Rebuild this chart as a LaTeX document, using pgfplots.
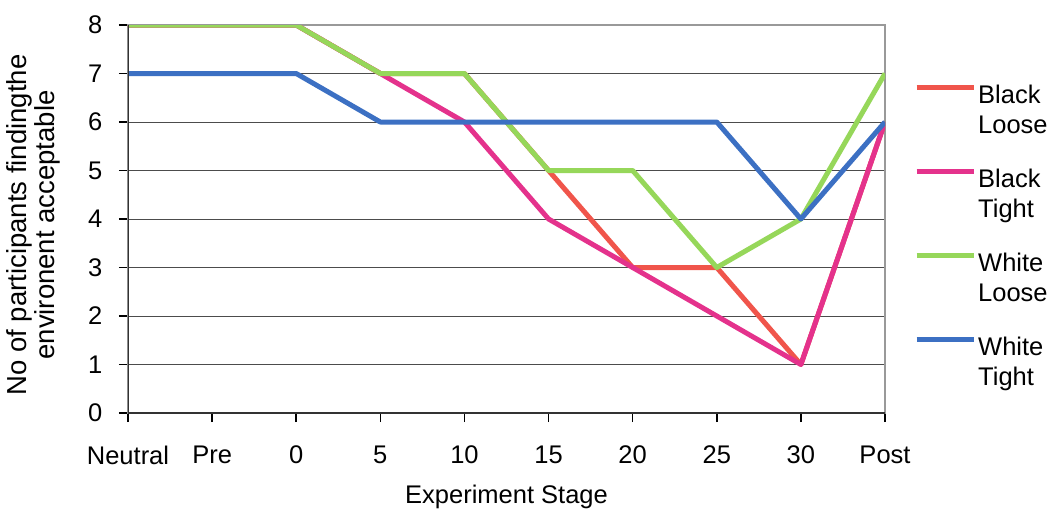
\documentclass[border=0pt]{standalone}
\usepackage{pgfplots}
\pgfplotsset{compat=1.18}
\usepackage{fontspec}
\setmainfont{Liberation Sans}
\definecolor{cRed}{RGB}{240,85,75}
\definecolor{cPink}{RGB}{228,50,140}
\definecolor{cGreen}{RGB}{150,215,90}
\definecolor{cBlue}{RGB}{60,112,195}
\begin{document}
\fontsize{25.5}{30}\selectfont
\begin{tikzpicture}
\begin{axis}[
  scale only axis, width=757pt, height=388pt,
  xmin=0, xmax=9, ymin=0, ymax=8,
  xtick={0,...,9},
  xticklabels={Neutral,Pre,0,5,10,15,20,25,30,Post},
  ytick={0,...,8},
  /pgf/number format/assume math mode=true,
  ymajorgrids, grid style={draw=black!70, line width=1pt},
  axis line style={draw=black!40, line width=1.5pt},
  tick pos=left, tick align=outside, major tick length=9pt,
  tick style={black, line width=1.5pt},
  ticklabel style={font=\fontsize{25.5}{30}\selectfont},
  xticklabel style={anchor=north, yshift=-15pt},
  yticklabel style={anchor=east, xshift=-8pt},
  xlabel={Experiment Stage},
  xlabel style={at={(axis description cs:0.5,0)}, anchor=center, yshift=-84pt, font=\fontsize{25.5}{30}\selectfont},
  ylabel={No of participants findingthe\\environent acceptable},
  ylabel style={align=center, inner sep=0pt, at={(axis description cs:0,0.5)}, anchor=south, yshift=68pt, xshift=-6pt,
    font=\fontsize{27.5}{28}\selectfont},
  legend style={draw=none, fill=none, at={(axis description cs:1,1)}, anchor=north west,
    xshift=26pt, yshift=-53pt, row sep=40pt, font=\fontsize{25.5}{30}\selectfont},
  legend cell align=left,
  legend image code/.code={\draw[#1, line width=5pt] (0pt,15pt) -- (57pt,15pt);},
  every axis plot/.append style={line width=5pt, line join=round, mark=none},
]
\coordinate (o) at (rel axis cs:0,0);
\addplot[cRed] coordinates {(0,8) (1,8) (2,8) (3,7) (4,7) (5,5) (6,3) (7,3) (8,1) (9,6)};
\addlegendentry{\begin{tabular}{@{}l@{}}Black\\Loose\end{tabular}}
\addplot[cPink] coordinates {(0,8) (1,8) (2,8) (3,7) (4,6) (5,4) (6,3) (7,2) (8,1) (9,6)};
\addlegendentry{\begin{tabular}{@{}l@{}}Black\\Tight\end{tabular}}
\addplot[cGreen] coordinates {(0,8) (1,8) (2,8) (3,7) (4,7) (5,5) (6,5) (7,3) (8,4) (9,7)};
\addlegendentry{\begin{tabular}{@{}l@{}}White\\Loose\end{tabular}}
\addplot[cBlue] coordinates {(0,7) (1,7) (2,7) (3,6) (4,6) (5,6) (6,6) (7,6) (8,4) (9,6)};
\addlegendentry{\begin{tabular}{@{}l@{}}White\\Tight\end{tabular}}
\draw[black!80, line width=2pt] (rel axis cs:0,1) -- (rel axis cs:0,0) -- (rel axis cs:1,0);
\end{axis}
\path (o) ++(-128pt,-100pt) rectangle ++(1057pt,513pt);
\end{tikzpicture}
\end{document}
